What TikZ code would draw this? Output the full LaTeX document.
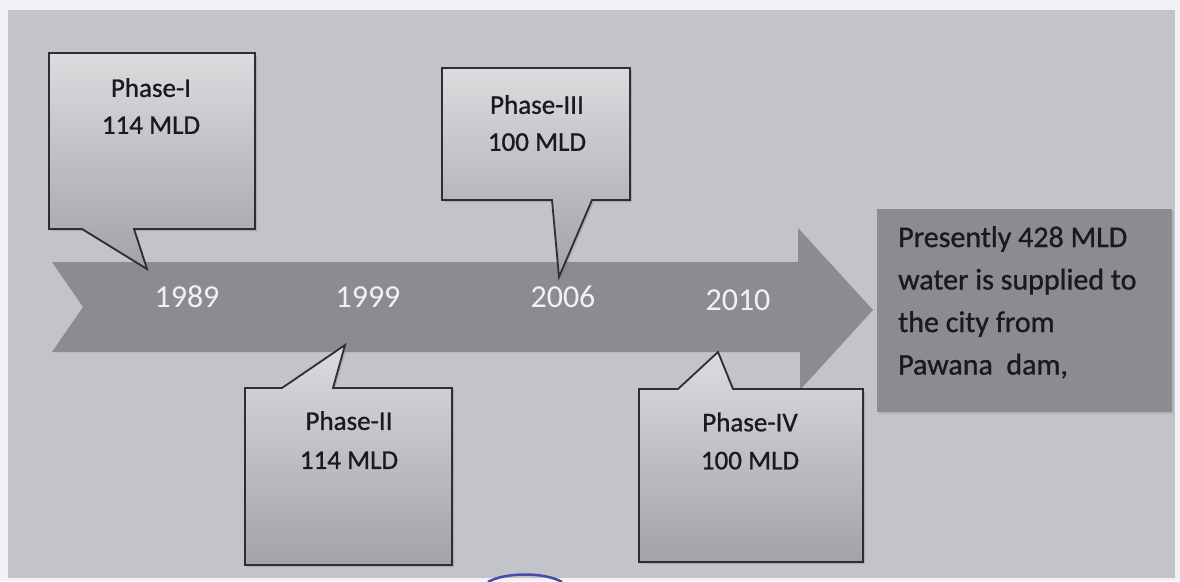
\documentclass[tikz,border=0pt]{standalone}
\usepackage{fontspec}
\setmainfont{Carlito}
\newfontfamily\heavyfont[FakeBold=0.9]{Carlito}
\usetikzlibrary{shadows}
\definecolor{pagebg}{HTML}{F3F1F5}
\definecolor{panelbg}{HTML}{C3C4CA}
\definecolor{arrowgrey}{HTML}{8B8B90}
\definecolor{boxtop}{HTML}{DCDCDF}
\definecolor{boxbot}{HTML}{A2A2A7}
\definecolor{boxline}{HTML}{2E2E32}
\definecolor{textdark}{HTML}{1A1A1E}
\definecolor{yearwhite}{HTML}{F2F2F4}
\definecolor{stampblue}{HTML}{4A4AA8}
\tikzset{
  callout/.style={draw=boxline, line width=1.8pt, line join=miter,
    top color=boxtop, bottom color=boxbot,
    drop shadow={shadow xshift=2pt, shadow yshift=-2pt, opacity=0.35}},
  calltext/.style={text=textdark, font=\heavyfont\fontsize{27}{37}\selectfont, align=center, inner sep=0pt},
  yeartext/.style={text=yearwhite, font=\fontsize{32}{36}\selectfont, inner sep=0pt},
  notetext/.style={text=textdark, font=\heavyfont\fontsize{30}{42.5}\selectfont, align=left, inner sep=0pt, anchor=north west}
}
\begin{document}
\begin{tikzpicture}[x=1pt, y=-1pt]
\useasboundingbox (0,0) rectangle (1180,581);
\fill[pagebg] (0,0) rectangle (1180,581);
\fill[panelbg] (8,10) rectangle (1175,578);

% timeline arrow
\fill[arrowgrey] (52,262) -- (798,262) -- (798,228) -- (873,310) -- (800,390) -- (800,352) -- (52,352) -- (83,307) -- cycle;

% years
\node[yeartext] (y1989) at (187,297) {1989};
\node[yeartext] (y1999) at (368,297) {1999};
\node[yeartext] (y2006) at (563,297) {2006};
\node[yeartext] (y2010) at (738,300) {2010};

% callouts
\path[callout] (49,53) -- (255,53) -- (255,229) -- (134,229) -- (147,269) -- (82,229) -- (49,229) -- cycle;
\node[calltext] (p1) at (151,106) {Phase-I\\114 MLD};

\path[callout] (442,68) -- (630,68) -- (630,200) -- (592,200) -- (559,277) -- (552,200) -- (442,200) -- cycle;
\node[calltext] (p3) at (537,123) {Phase-III\\100 MLD};

\path[callout] (245,388) -- (282,388) -- (345,345) -- (333,388) -- (452,388) -- (452,565) -- (245,565) -- cycle;
\node[calltext, font=\heavyfont\fontsize{27}{39}\selectfont] (p2) at (349,440) {Phase-II\\114 MLD};

\path[callout] (639,389) -- (678,389) -- (718,352) -- (733,389) -- (863,389) -- (863,562) -- (639,562) -- cycle;
\node[calltext, font=\heavyfont\fontsize{27}{38}\selectfont] (p4) at (750,441) {Phase-IV\\100 MLD};

% note box
\fill[arrowgrey, drop shadow={shadow xshift=2pt, shadow yshift=-2pt, opacity=0.25}] (877,209) rectangle (1172,412);
\node[notetext] (note) at (898,226) {Presently 428 MLD\\water is supplied to\\the city from\\Pawana~ dam,};

% stamp fragment
\draw[stampblue, line width=2.5pt] (488,582) .. controls (505,572) and (545,572) .. (562,582);
\end{tikzpicture}
\end{document}
